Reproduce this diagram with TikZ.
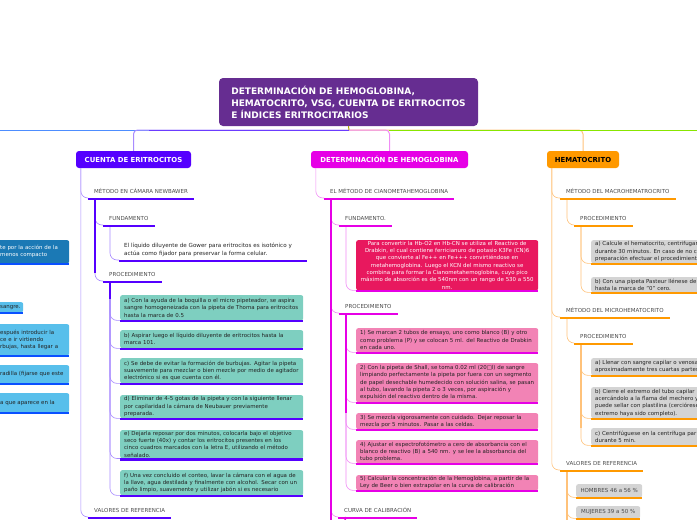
\documentclass[tikz,border=0pt]{standalone}
\usepackage{fontspec}
\setmainfont{DejaVu Sans}
\usetikzlibrary{positioning,calc}
\definecolor{rootc}{HTML}{662D91}
\definecolor{vio}{HTML}{5500FF}
\definecolor{viomid}{HTML}{6B3BFF}
\definecolor{violt}{HTML}{A88BFF}
\definecolor{mag}{HTML}{E600E6}
\definecolor{maglt}{HTML}{F08CF5}
\definecolor{ora}{HTML}{FF9900}
\definecolor{oralt}{HTML}{FFC27A}
\definecolor{lime}{HTML}{88E600}
\definecolor{sky}{HTML}{4D8DFF}
\definecolor{bluel}{HTML}{0A50FF}
\definecolor{olive}{HTML}{B0A800}
\definecolor{tealbox}{HTML}{7ECFC0}
\definecolor{pinkbox}{HTML}{F283B5}
\definecolor{crim}{HTML}{E8185E}
\definecolor{graybox}{HTML}{D4D4D4}
\definecolor{bluedk}{HTML}{1B79B5}
\definecolor{bluelt}{HTML}{58BFEB}
\definecolor{ink}{HTML}{222222}
\definecolor{topicgray}{HTML}{4A4A4A}

\begin{document}
\begin{tikzpicture}[x=1pt,y=-1pt,
    root/.style={fill=rootc, rounded corners=4pt, text=white, align=left,
      font=\fontsize{9}{12}\selectfont\bfseries, minimum width=259pt, minimum height=48pt},
    branch/.style={rounded corners=3pt, minimum height=17pt, text=white,
      font=\fontsize{6.9}{8}\selectfont\bfseries},
    topic/.style={anchor=south west, inner xsep=6pt, inner ysep=3.5pt, text depth=0.5pt,
      text=topicgray, font=\fontsize{5.5}{7}\selectfont},
    note/.style={anchor=south west, inner xsep=5pt, inner ysep=3pt, align=left, text=ink,
      font=\fontsize{5.6}{7.8}\selectfont},
    stepbox/.style={anchor=north west, rounded corners=2pt, inner xsep=4pt, inner ysep=1pt,
      align=left, text=ink, font=\fontsize{5.45}{7.3}\selectfont},
    ul/.style={line width=2.4pt},
    conn/.style={line width=0.6pt, rounded corners=7pt},
    trunk/.style={line width=1.6pt}]
  \useasboundingbox (0,0) rectangle (697,520);
  \clip (0,0) rectangle (697,520);

  % root and main branches
  \node[root] (root) at (348.5,102) {DETERMINACIÓN DE HEMOGLOBINA,\\HEMATOCRITO, VSG, CUENTA DE ERITROCITOS\\E ÍNDICES ERITROCITARIOS};
  \node[branch, fill=vio, minimum width=115pt] (cuenta) at (133.5,159.5) {CUENTA DE ERITROCITOS};
  \node[branch, fill=mag, minimum width=157pt] (hemo) at (389.5,159.5) {DETERMINACIÓN DE HEMOGLOBINA};
  \node[branch, fill=ora, text=black, minimum width=72pt] (hema) at (583,159.5) {HEMATOCRITO};

  \coordinate (hub) at (349,130);
  \coordinate (leftend) at (0,130);
  \coordinate (rightend) at (697,130);
  \draw[sky, line width=1pt] (hub) -- (leftend);
  \draw[oralt, line width=1pt, rounded corners=4pt] (hub) -| (hema.north);
  \draw[maglt, line width=1pt, rounded corners=4pt] (hub) -| (hemo.north);
  \draw[lime, line width=1pt] ([xshift=40pt]hub) -- (rightend);
  \draw[violt, line width=1pt, rounded corners=4pt] (hub) -| (cuenta.north);
  \draw[viomid, line width=1pt] (hub) -- ([xshift=-200pt]hub);
  \draw[olive, line width=1pt] (root.south) -- (hub);

  % left branch, cut by the edge
  \node[stepbox, fill=bluedk, text=white, text width=65pt, minimum height=23pt] (lb1) at (-4,240) {te por la acción de la\\menos compacto};
  \node[stepbox, fill=bluelt, text width=19pt, minimum height=10pt] (lb2) at (-4,302) {sangre.};
  \node[stepbox, fill=bluelt, text width=65pt, minimum height=31pt] (lb3) at (-4,324) {espués introducir la\\ce e ir virtiendo\\rbujas, hasta llegar a};
  \node[stepbox, fill=bluelt, text width=65pt, minimum height=18pt] (lb4) at (-4,365) {radilla (fijarse que este};
  \node[stepbox, fill=bluelt, text width=65pt, minimum height=19pt] (lb5) at (-4,393) {a que aparece en la};

  % cuenta de eritrocitos
  \node[topic] (metc) at (88,198) {MÉTODO EN CÁMARA NEWBAWER};
  \node[topic] (fundc) at (103,225) {FUNDAMENTO};
  \node[note, text width=178pt] (fundctxt) at (119,260) {El líquido diluyente de Gower para eritrocitos es isotónico y\\actúa como fijador para preservar la forma celular.};
  \node[topic] (procc) at (103,281) {PROCEDIMIENTO};
  \node[stepbox, fill=tealbox, text width=175pt, minimum height=25pt] (ca) at (120,295) {a) Con la ayuda de la boquilla o el micro pipeteador, se aspira\\sangre homogeneizada con la pipeta de Thoma para eritrocitos\\hasta la marca de 0.5};
  \node[stepbox, fill=tealbox, text width=175pt, minimum height=18pt] (cb) at (120,330) {b) Aspirar luego el líquido diluyente de eritrocitos hasta la\\marca 101.};
  \node[stepbox, fill=tealbox, text width=175pt, minimum height=25pt] (cc) at (120,358) {c) Se debe de evitar la formación de burbujas. Agitar la pipeta\\suavemente para mezclar o bien mezcle por medio de agitador\\electrónico si es que cuenta con él.};
  \node[stepbox, fill=tealbox, text width=175pt, minimum height=23pt] (cd) at (120,395) {d) Eliminar de 4-5 gotas de la pipeta y con la siguiente llenar\\por capilaridad la cámara de Neubauer previamente\\preparada.};
  \node[stepbox, fill=tealbox, text width=175pt, minimum height=28pt] (ce) at (120,430) {e) Dejarla reposar por dos minutos, colocarla bajo el objetivo\\seco fuerte (40x) y contar los eritrocitos presentes en los\\cinco cuadros marcados con la letra E, utilizando el método\\señalado.};
  \node[stepbox, fill=tealbox, text width=175pt, minimum height=25pt] (cf) at (120,470) {f) Una vez concluido el conteo, lavar la cámara con el agua de\\la llave, agua destilada y finalmente con alcohol. Secar con un\\paño limpio, suavemente y utilizar jabón si es necesario};
  \node[topic] (valc) at (88,517) {VALORES DE REFERENCIA};

  % determinacion de hemoglobina
  \node[topic] (metodo) at (324,198) {EL MÉTODO DE CIANOMETAHEMOGLOBINA};
  \node[topic] (fundh) at (339,225) {FUNDAMENTO.};
  \node[stepbox, fill=crim, text=white, align=center, text width=174pt, minimum height=50pt] (fundhbox) at (356,240) {Para convertir la Hb-O2 en Hb-CN se utiliza el Reactivo de\\Drabkin, el cual contiene ferricianuro de potasio K3Fe (CN)6\\que convierte al Fe++ en Fe+++ convirtiéndose en\\metahemoglobina. Luego el KCN del mismo reactivo se\\combina para formar la Cianometahemoglobina, cuyo pico\\máximo de absorción es de 540nm con un rango de 530 a 550\\nm.};
  \node[topic] (proch) at (339,313) {PROCEDIMIENTO};
  \node[stepbox, fill=pinkbox, text width=174pt, minimum height=24pt] (h1) at (356,328) {1) Se marcan 2 tubos de ensayo, uno como blanco (B) y otro\\como problema (P) y se colocan 5 ml. del Reactivo de Drabkin\\en cada uno.};
  \node[stepbox, fill=pinkbox, text width=174pt, minimum height=39pt] (h2) at (356,363) {2) Con la pipeta de Shall, se toma 0.02 ml (20□l) de sangre\\limpiando perfectamente la pipeta por fuera con un segmento\\de papel desechable humedecido con solución salina, se pasan\\al tubo, lavando la pipeta 2 o 3 veces, por aspiración y\\expulsión del reactivo dentro de la misma.};
  \node[stepbox, fill=pinkbox, text width=174pt, minimum height=16pt] (h3) at (356,413) {3) Se mezcla vigorosamente con cuidado. Dejar reposar la\\mezcla por 5 minutos. Pasar a las celdas.};
  \node[stepbox, fill=pinkbox, text width=174pt, minimum height=23pt] (h4) at (356,440) {4) Ajustar el espectrofotómetro a cero de absorbancia con el\\blanco de reactivo (B) a 540 nm. y se lee la absorbancia del\\tubo problema.};
  \node[stepbox, fill=pinkbox, text width=174pt, minimum height=15pt] (h5) at (356,475) {5) Calcular la concentración de la Hemoglobina, a partir de la\\Ley de Beer o bien extrapolar en la curva de calibración};
  \node[topic] (curva) at (338,517) {CURVA DE CALIBRACIÓN};

  % hematocrito
  \node[topic] (macro) at (560,198) {MÉTODO DEL MACROHEMATROCRITO};
  \node[topic] (procm1) at (574,225) {PROCEDIMIENTO};
  \node[stepbox, fill=graybox, text width=150pt, minimum height=23pt] (ga) at (591,240) {a) Calcule el hematocrito, centrifugar\\durante 30 minutos. En caso de no c\\preparación efectuar el procedimient};
  \node[stepbox, fill=graybox, text width=150pt, minimum height=15pt] (gb) at (591,277) {b) Con una pipeta Pasteur llénese de\\hasta la marca de "0" cero.};
  \node[topic] (micro) at (560,317) {MÉTODO DEL MICROHEMATOCRITO};
  \node[topic] (procm2) at (574,343) {PROCEDIMIENTO};
  \node[stepbox, fill=graybox, text width=150pt, minimum height=17pt] (gc) at (591,358) {a) Llenar con sangre capilar o venosa\\aproximadamente tres cuartas partes};
  \node[stepbox, fill=graybox, text width=150pt, minimum height=31pt] (gd) at (591,387) {b) Cierre el extremo del tubo capilar\\acercándolo a la flama del mechero y\\puede sellar con plastilina (cerciórese\\extremo haya sido completo).};
  \node[stepbox, fill=graybox, text width=150pt, minimum height=17pt] (ge) at (591,428) {c) Centrifúguese en la centrífuga par\\durante 5 min.};
  \node[topic] (valh) at (560,470) {VALORES DE REFERENCIA};
  \node[stepbox, fill=graybox, text=topicgray, minimum width=66pt, minimum height=13pt, font=\fontsize{5.5}{7}\selectfont] (hom) at (576,484) {HOMBRES 46 a 56 \%};
  \node[stepbox, fill=graybox, text=topicgray, minimum width=64pt, minimum height=12pt, font=\fontsize{5.5}{7}\selectfont] (muj) at (576,506) {MUJERES 39 a 50 \%};

  % trunk points
  \coordinate (cuentaT) at ([xshift=5pt]cuenta.south west);
  \coordinate (metcT) at ([xshift=7pt]metc.south west);
  \coordinate (fundcT) at ([xshift=7pt]fundc.south west);
  \coordinate (proccT) at ([xshift=7pt]procc.south west);
  \coordinate (hemoT) at ([xshift=5pt]hemo.south west);
  \coordinate (metodoT) at ([xshift=7pt]metodo.south west);
  \coordinate (fundhT) at ([xshift=7pt]fundh.south west);
  \coordinate (prochT) at ([xshift=7pt]proch.south west);
  \coordinate (curvaT) at ([xshift=7pt]curva.south west);
  \coordinate (hemaT) at ([xshift=5pt]hema.south west);
  \coordinate (macroT) at ([xshift=7pt]macro.south west);
  \coordinate (procm1T) at ([xshift=7pt]procm1.south west);
  \coordinate (microT) at ([xshift=7pt]micro.south west);
  \coordinate (procm2T) at ([xshift=7pt]procm2.south west);
  \coordinate (valhT) at ([xshift=7pt]valh.south west);
  \coordinate (metodoend) at (331,530);
  \coordinate (curvaend) at (346,530);
  \coordinate (valhend) at (567,530);

  % connectors
  \foreach \p/\c in {cuentaT/metc, cuentaT/valc, metcT/fundc, metcT/procc, fundcT/fundctxt,
                     proccT/ca, proccT/cb, proccT/cc, proccT/cd, proccT/ce, proccT/cf}
    \draw[conn, violt] (\p) |- (\c.south west);
  \foreach \p/\c in {hemoT/metodo, metodoT/fundh, metodoT/proch, metodoT/curva, fundhT/fundhbox,
                     prochT/h1, prochT/h2, prochT/h3, prochT/h4, prochT/h5}
    \draw[conn, maglt] (\p) |- (\c.south west);
  \foreach \p/\c in {hemaT/macro, hemaT/micro, hemaT/valh, macroT/procm1, procm1T/ga, procm1T/gb,
                     microT/procm2, procm2T/gc, procm2T/gd, procm2T/ge, valhT/hom, valhT/muj}
    \draw[conn, oralt] (\p) |- (\c.south west);

  \draw[trunk, vio] (metcT) -- ($(metcT |- procc.south)+(0,-8)$);
  \draw[trunk, vio] (proccT) -- ++(0,18);
  \draw[trunk, mag] (metodoT) -- (metodoend);
  \draw[trunk, mag] (prochT) -- ($(prochT |- h3.north)$);
  \draw[trunk, mag] (curvaT) -- (curvaend);
  \draw[trunk, oralt] (procm2T) -- ($(procm2T |- ge.north)$);
  \draw[trunk, oralt] (valhT) -- (valhend);

  % underlines
  \foreach \n/\c in {metc/vio, fundc/vio, fundctxt/vio, procc/vio, ca/vio, cb/vio, cc/vio, cd/vio, ce/vio, cf/vio, valc/vio,
                     metodo/mag, fundh/mag, fundhbox/mag, proch/mag, h1/mag, h2/mag, h3/mag, h4/mag, h5/mag, curva/mag,
                     macro/ora, procm1/ora, ga/ora, gb/ora, micro/ora, procm2/ora, gc/ora, gd/ora, ge/ora, valh/ora, hom/ora, muj/ora,
                     lb1/bluel, lb2/bluel, lb3/bluel, lb4/bluel, lb5/bluel}
    \draw[ul, \c] ([yshift=-0.8pt]\n.south west) -- ([yshift=-0.8pt]\n.south east);
\end{tikzpicture}
\end{document}
